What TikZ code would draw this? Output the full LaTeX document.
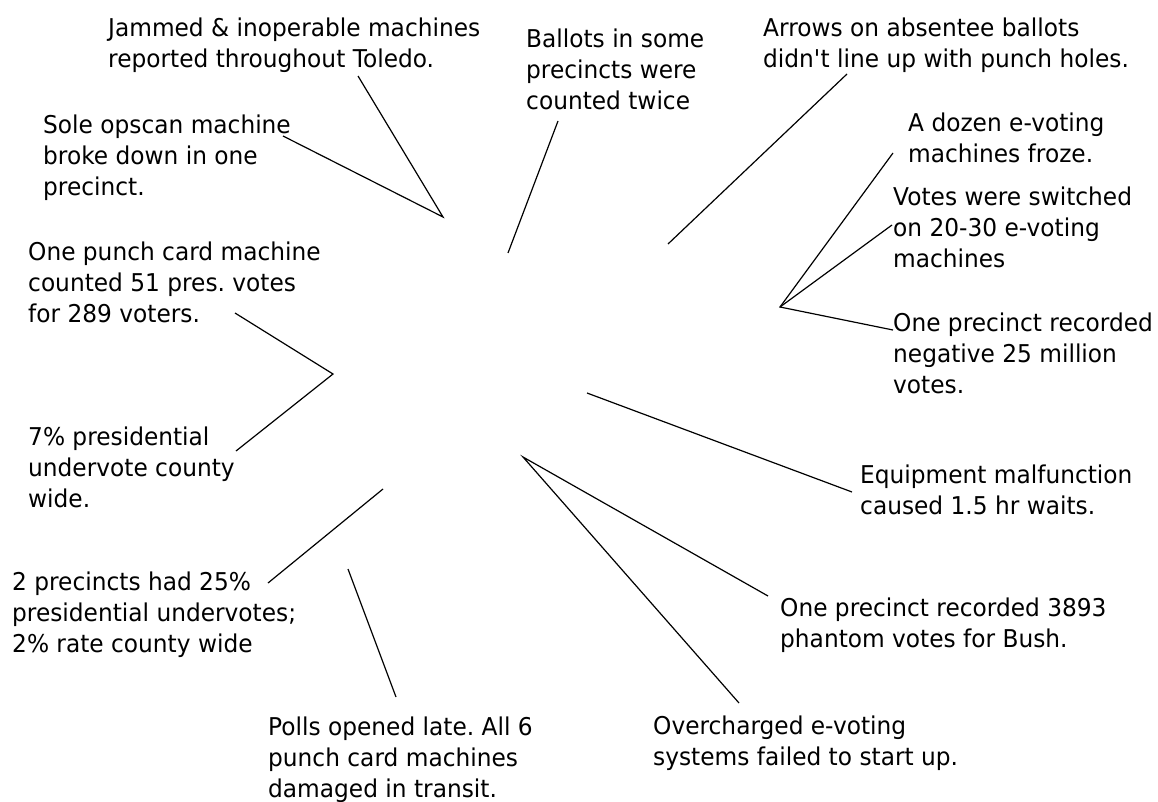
\documentclass[tikz,border=0pt]{standalone}
\usepackage{fontspec}
\setmainfont[FakeStretch=0.95]{DejaVu Sans}
\frenchspacing

\tikzset{
  note/.style={anchor=north west, inner sep=0pt, align=left,
    font=\fontsize{24.5bp}{31bp}\selectfont},
  lead/.style={line width=1.2bp}
}

\begin{document}
\begin{tikzpicture}[x=1bp, y=-1bp]
    \useasboundingbox (0,0) rectangle (1158,802);

    \node[note] (jammed)      at (108,18)  {Jammed \& inoperable machines\\reported throughout Toledo.};
    \node[note] (opscan)      at (43,115)  {Sole opscan machine\\broke down in one\\precinct.};
    \node[note] (punchcard)   at (28,242)  {One punch card machine\\counted 51 pres. votes\\for 289 voters.};
    \node[note] (undervote)   at (28,427)  {7\% presidential\\undervote county\\wide.};
    \node[note] (precincts)   at (12,572)  {2 precincts had 25\%\\presidential undervotes;\\2\% rate county wide};
    \node[note] (polls)       at (268,717) {Polls opened late. All 6\\punch card machines\\damaged in transit.};
    \node[note] (overcharged) at (653,716) {Overcharged e-voting\\systems failed to start up.};
    \node[note] (phantom)     at (780,598) {One precinct recorded 3893\\phantom votes for Bush.};
    \node[note] (equipment)   at (860,465) {Equipment malfunction\\caused 1.5 hr waits.};
    \node[note] (negative)    at (893,313) {One precinct recorded\\negative 25 million\\votes.};
    \node[note] (switched)    at (893,187) {Votes were switched\\on 20-30 e-voting\\machines};
    \node[note] (froze)       at (908,113) {A dozen e-voting\\machines froze.};
    \node[note] (absentee)    at (763,18)  {Arrows on absentee ballots\\didn\textquotesingle t line up with punch holes.};
    \node[note] (twice)       at (526,29)  {Ballots in some\\precincts were\\counted twice};

    \coordinate (jammed-tip)    at (358,76);
    \coordinate (opscan-tip)    at (283,136);
    \coordinate (hubA)          at (443,217);
    \coordinate (twice-tip)     at (558,121);
    \coordinate (twice-end)     at (508,253);
    \coordinate (absentee-tip)  at (847,74);
    \coordinate (absentee-end)  at (668,244);
    \coordinate (froze-tip)     at (893,153);
    \coordinate (switched-tip)  at (892,225);
    \coordinate (negative-tip)  at (893,330);
    \coordinate (hubB)          at (780,307);
    \coordinate (punchcard-tip) at (235,313);
    \coordinate (undervote-tip) at (236,451);
    \coordinate (hubC)          at (333,374);
    \coordinate (equipment-tip) at (852,492);
    \coordinate (equipment-end) at (587,393);
    \coordinate (phantom-tip)   at (768,596);
    \coordinate (overcharged-tip) at (739,703);
    \coordinate (hubD)          at (523,457);
    \coordinate (precincts-tip) at (268,583);
    \coordinate (precincts-end) at (383,489);
    \coordinate (polls-tip)     at (396,697);
    \coordinate (polls-end)     at (348,569);

    \draw[lead] (jammed-tip) -- (hubA) -- (opscan-tip);
    \draw[lead] (twice-tip) -- (twice-end);
    \draw[lead] (absentee-tip) -- (absentee-end);
    \draw[lead] (froze-tip) -- (hubB) -- (negative-tip);
    \draw[lead] (switched-tip) -- (hubB);
    \draw[lead] (punchcard-tip) -- (hubC) -- (undervote-tip);
    \draw[lead] (equipment-end) -- (equipment-tip);
    \draw[lead] (phantom-tip) -- (hubD) -- (overcharged-tip);
    \draw[lead] (precincts-tip) -- (precincts-end);
    \draw[lead] (polls-tip) -- (polls-end);
\end{tikzpicture}
\end{document}
